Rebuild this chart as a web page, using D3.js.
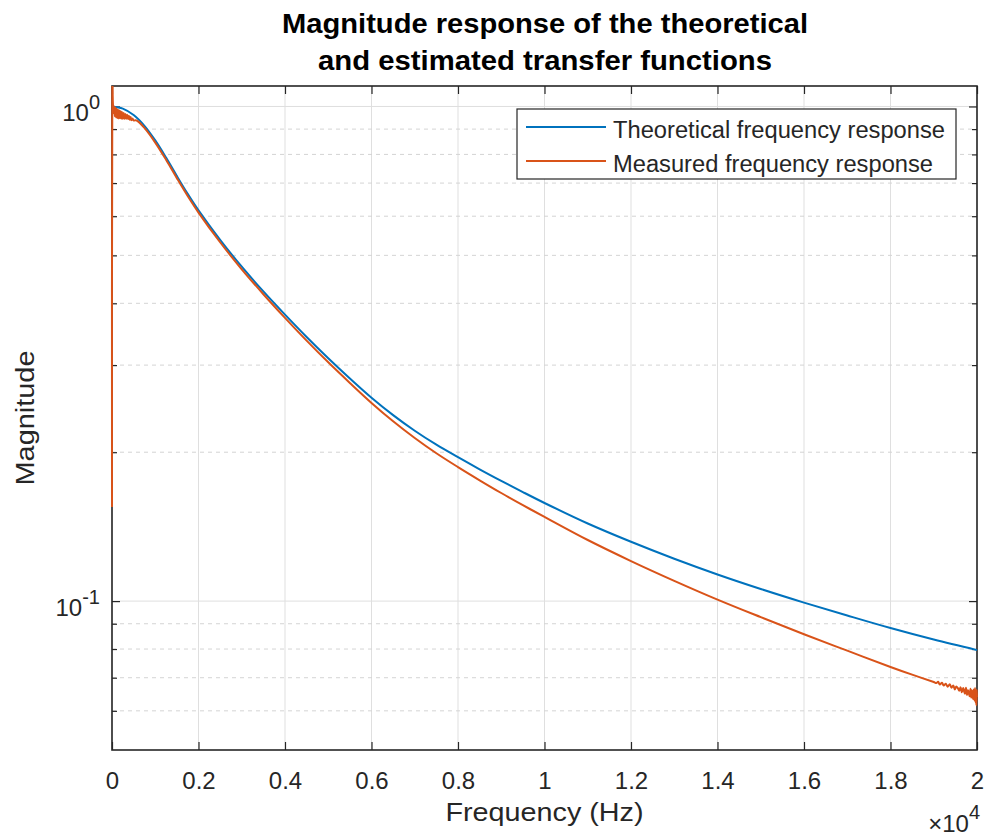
<!DOCTYPE html>
<html><head><meta charset="utf-8">
<script src="https://cdn.jsdelivr.net/npm/d3@7"></script>
<style>body{margin:0;background:#fff} svg{display:block}</style>
</head><body>
<svg id="chart" width="990" height="840"></svg>
<script>
// ---------- data ----------
const titleLines = ["Magnitude response of the theoretical", "and estimated transfer functions"];
const xLabel = "Frequency (Hz)";
const yLabel = "Magnitude";
const seriesNames = ["Theoretical frequency response", "Measured frequency response"];
const seriesColors = ["#0072BD", "#D95319"];

const xDomain = [0, 20000];
const yDomain = [0.05, 1.1];
const xTickValues = [0, 2000, 4000, 6000, 8000, 10000, 12000, 14000, 16000, 18000, 20000];
const xTickLabels = ["0", "0.2", "0.4", "0.6", "0.8", "1", "1.2", "1.4", "1.6", "1.8", "2"];
const xExponent = "4";
const yMajorTicks = [0.1, 1];
const yMinorTicks = [0.06, 0.07, 0.08, 0.09, 0.2, 0.3, 0.4, 0.5, 0.6, 0.7, 0.8, 0.9];

const freqTheoretical = [0, 250, 500, 750, 1000, 1250, 1500, 1750, 2000, 2500, 3000, 3500, 4000, 4500, 5000, 5500,
  6000, 6500, 7000, 7500, 8000, 8500, 9000, 9500, 10000, 11000, 12000, 13000, 14000, 15000, 16000, 17000, 18000,
  19000, 20000];
const magTheoretical = [1.0, 0.990, 0.9608, 0.9139, 0.8538, 0.7882, 0.7233, 0.6657, 0.6164, 0.5374, 0.4743, 0.4228,
  0.3795, 0.3420, 0.3098, 0.2820, 0.2578, 0.2377, 0.2210, 0.2071, 0.1954, 0.1847, 0.1750, 0.1661, 0.1579, 0.1435,
  0.1318, 0.1218, 0.1132, 0.1058, 0.0993, 0.0935, 0.0882, 0.0836, 0.0796];

const freqMeasured = [0, 8, 20, 35, 50, 65, 80, 95, 110, 125, 140, 155, 170, 185, 200, 215, 230, 250, 270, 290, 310,
  330, 350, 370, 390, 410, 430, 450, 475, 500, 550, 600,
  750, 1000, 1250, 1500, 1750, 2000, 2500, 3000, 3500, 4000, 4500, 5000, 5500, 6000, 6500, 7000, 7500, 8000,
  8500, 9000, 9500, 10000, 11000, 12000, 13000, 14000, 15000, 16000, 17000, 18000, 18500,
  19000, 19060, 19100, 19140, 19190, 19230, 19280, 19320, 19370, 19410, 19450, 19490, 19520, 19560, 19590, 19620,
  19650, 19680, 19700, 19720, 19745, 19770, 19790, 19810, 19830, 19850, 19865, 19880, 19895, 19910, 19925, 19940,
  19955, 19965, 19975, 19985, 19993, 20000];
const magMeasured = [0.155, 1.15, 1.02, 0.97, 1.0, 0.955, 0.995, 0.95, 0.99, 0.948, 0.985, 0.946, 0.982, 0.947, 0.978,
  0.945, 0.975, 0.944, 0.97, 0.944, 0.966, 0.944, 0.962, 0.943, 0.958, 0.94, 0.952, 0.938, 0.946, 0.937, 0.938, 0.933,
  0.9048, 0.8453, 0.7803, 0.7161, 0.6590, 0.6102, 0.5315, 0.4686, 0.4173, 0.3738, 0.3362, 0.3039, 0.2761, 0.2516,
  0.2310, 0.2137, 0.1990, 0.1866, 0.1755, 0.1654, 0.1563, 0.1480, 0.1329, 0.1205, 0.1099, 0.1007, 0.0928, 0.0857,
  0.0794, 0.0736, 0.0710,
  0.0686, 0.0683, 0.0687, 0.0678, 0.0684, 0.0675, 0.0681, 0.0671, 0.0679, 0.0668, 0.0675, 0.0663, 0.0672, 0.0666,
  0.0659, 0.0670, 0.0654, 0.0667, 0.0658, 0.0650, 0.0668, 0.0646, 0.0660, 0.0653, 0.0642, 0.0665, 0.0638, 0.0660,
  0.0648, 0.0634, 0.0663, 0.0630, 0.0667, 0.0624, 0.0655, 0.0616, 0.0662, 0.0640];

// ---------- layout ----------
const P = {left: 112, right: 977, top: 86, bottom: 750};
const font = "'Liberation Sans', Arial, Helvetica, sans-serif";
const axisColor = "#262626";
const svg = d3.select("#chart").style("font-family", font);

const x = d3.scaleLinear().domain(xDomain).range([P.left, P.right]);
const y = d3.scaleLog().domain(yDomain).range([P.bottom, P.top]);

// ---------- grid ----------
const grid = svg.append("g");
grid.selectAll("line.vg").data(xTickValues).join("line")
  .attr("x1", d => x(d)).attr("x2", d => x(d)).attr("y1", P.top).attr("y2", P.bottom)
  .attr("stroke", "#dfdfdf").attr("stroke-width", 1);
grid.selectAll("line.mn").data(yMinorTicks).join("line")
  .attr("x1", P.left).attr("x2", P.right).attr("y1", d => y(d)).attr("y2", d => y(d))
  .attr("stroke", "#d4d4d4").attr("stroke-width", 1).attr("stroke-dasharray", "4,4");
grid.selectAll("line.mj").data(yMajorTicks).join("line")
  .attr("x1", P.left).attr("x2", P.right).attr("y1", d => y(d)).attr("y2", d => y(d))
  .attr("stroke", "#dfdfdf").attr("stroke-width", 1);

// ---------- axes ----------
function styleAxis(g) {
  g.select(".domain").remove();
  g.selectAll(".tick line").attr("stroke", axisColor).attr("stroke-width", 1.2);
  g.selectAll(".tick text").attr("fill", axisColor).style("font-family", font);
}
svg.append("g").attr("transform", `translate(0,${P.bottom})`)
  .call(d3.axisBottom(x).tickValues(xTickValues).tickSizeInner(-8).tickSizeOuter(0).tickPadding(22)
    .tickFormat((d, i) => xTickLabels[i]))
  .call(styleAxis)
  .selectAll(".tick text").attr("font-size", 24);
svg.append("g").attr("transform", `translate(0,${P.top})`)
  .call(d3.axisTop(x).tickValues(xTickValues).tickSizeInner(-8).tickSizeOuter(0).tickFormat(""))
  .call(styleAxis);

const yLeft = svg.append("g").attr("transform", `translate(${P.left},0)`)
  .call(d3.axisLeft(y).tickValues(yMajorTicks).tickSizeInner(-8).tickSizeOuter(0).tickPadding(12).tickFormat(""))
  .call(styleAxis);
yLeft.selectAll(".tick text").attr("font-size", 24).attr("dy", 14.5)
  .each(function(d) {
    const t = d3.select(this);
    t.append("tspan").text("10");
    t.append("tspan").attr("dy", -12).attr("font-size", 20).text(String(Math.round(Math.log10(d))));
  });
svg.append("g").attr("transform", `translate(${P.left},0)`)
  .call(d3.axisLeft(y).tickValues(yMinorTicks).tickSizeInner(-5).tickSizeOuter(0).tickFormat(""))
  .call(styleAxis);
svg.append("g").attr("transform", `translate(${P.right},0)`)
  .call(d3.axisRight(y).tickValues(yMajorTicks).tickSizeInner(-8).tickSizeOuter(0).tickFormat(""))
  .call(styleAxis);
svg.append("g").attr("transform", `translate(${P.right},0)`)
  .call(d3.axisRight(y).tickValues(yMinorTicks).tickSizeInner(-5).tickSizeOuter(0).tickFormat(""))
  .call(styleAxis);

// box
svg.append("rect").attr("x", P.left).attr("y", P.top)
  .attr("width", P.right - P.left).attr("height", P.bottom - P.top)
  .attr("fill", "none").attr("stroke", axisColor).attr("stroke-width", 1.6);

// exponent
const ex = svg.append("text").attr("x", 980).attr("y", 831.5).attr("text-anchor", "end")
  .attr("font-size", 24).attr("fill", axisColor);
ex.append("tspan").text("\u00d710");
ex.append("tspan").attr("dy", -13).attr("font-size", 20).text(xExponent);

// axis labels
svg.append("text").attr("x", (P.left + P.right) / 2).attr("y", 821).attr("text-anchor", "middle")
  .attr("font-size", 26).attr("fill", axisColor)
  .attr("textLength", 198).attr("lengthAdjust", "spacingAndGlyphs").text(xLabel);
svg.append("text").attr("transform", `translate(34,${(P.top + P.bottom) / 2}) rotate(-90)`)
  .attr("text-anchor", "middle").attr("font-size", 26).attr("fill", axisColor)
  .attr("textLength", 135).attr("lengthAdjust", "spacingAndGlyphs").text(yLabel);

// title
const titleLens = [526, 454];
svg.selectAll("text.title").data(titleLines).join("text")
  .attr("x", 545).attr("y", (d, i) => 33 + i * 37).attr("text-anchor", "middle")
  .attr("font-size", 28).attr("font-weight", "bold").attr("fill", "#000")
  .attr("textLength", (d, i) => titleLens[i]).attr("lengthAdjust", "spacingAndGlyphs")
  .text(d => d);

// ---------- data lines ----------
svg.append("clipPath").attr("id", "clip").append("rect")
  .attr("x", P.left - 3).attr("y", P.top).attr("width", P.right - P.left + 6).attr("height", P.bottom - P.top);
const line = d3.line().x(d => x(d[0])).y(d => y(d[1])).curve(d3.curveCatmullRom.alpha(0.5));
const dataT = freqTheoretical.map((f, i) => [f, magTheoretical[i]]);
const dataM = freqMeasured.map((f, i) => [f, magMeasured[i]]);
const plot = svg.append("g").attr("clip-path", "url(#clip)");
plot.append("path").attr("d", line(dataT)).attr("fill", "none")
  .attr("stroke", seriesColors[0]).attr("stroke-width", 2).attr("stroke-linejoin", "round");
plot.append("path").attr("d", line(dataM)).attr("fill", "none")
  .attr("stroke", seriesColors[1]).attr("stroke-width", 2).attr("stroke-linejoin", "round");

// ---------- legend ----------
const lg = svg.append("g");
lg.append("rect").attr("x", 517).attr("y", 109).attr("width", 439).attr("height", 70)
  .attr("fill", "#fff").attr("stroke", axisColor).attr("stroke-width", 1.2);
const legendLens = [332, 320];
seriesNames.forEach((name, i) => {
  const ly = 127 + i * 34;
  lg.append("line").attr("x1", 526).attr("x2", 606).attr("y1", ly).attr("y2", ly)
    .attr("stroke", seriesColors[i]).attr("stroke-width", 2);
  lg.append("text").attr("x", 613).attr("y", ly + 10.5).attr("font-size", 23.5).attr("fill", axisColor)
    .attr("textLength", legendLens[i]).attr("lengthAdjust", "spacingAndGlyphs").text(name);
});
</script>
</body></html>
